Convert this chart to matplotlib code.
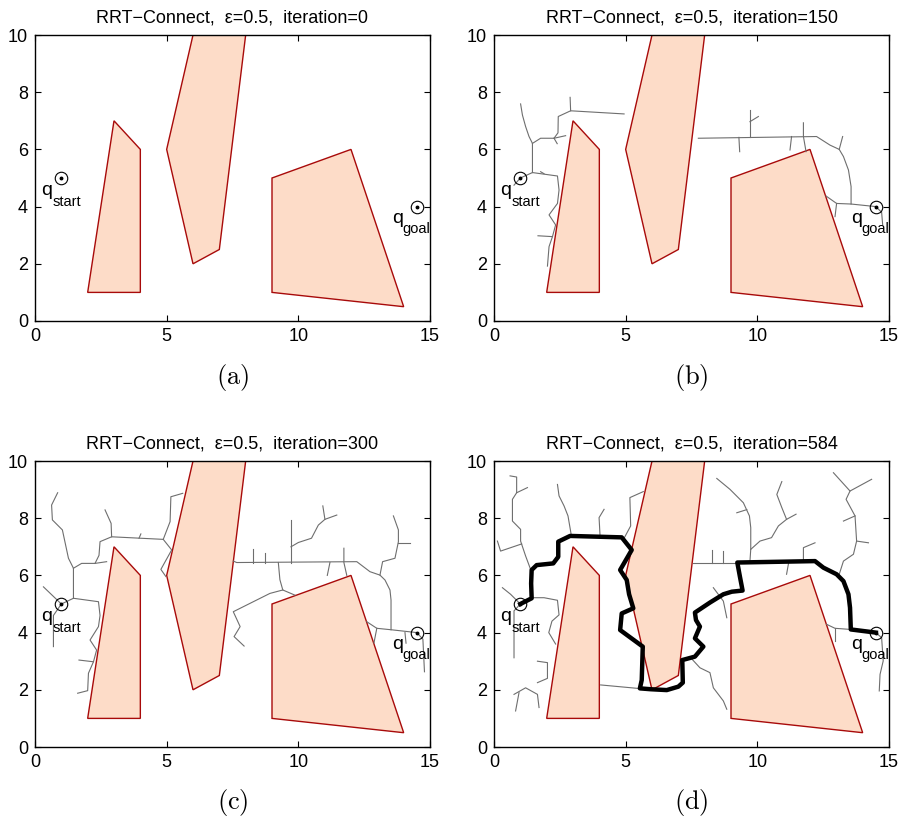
import matplotlib.pyplot as plt
from matplotlib.patches import Polygon

plt.rcParams['font.family'] = ['Liberation Sans', 'DejaVu Sans']
plt.rcParams['mathtext.fontset'] = 'cm'

# Data
obstacles = [
    [(2, 1), (3, 7), (4, 6), (4, 1)],
    [(5, 6), (6, 10), (8, 10), (7, 2.5), (6, 2)],
    [(9, 5), (12, 6), (14, 0.5), (9, 1)],
]
q_start = (1, 5)
q_goal = (14.5, 4)
iterations = [0, 150, 300, 584]
captions = ['(a)', '(b)', '(c)', '(d)']

tree_a = []

tree_b = [
    [(1.0, 5.0), (0.76, 4.75)],
    [(1.0, 5.0), (1.46, 5.19), (2.41, 5.07), (2.47, 4.58), (2.41, 4.11), (2.09, 3.71),
     (2.34, 3.36), (2.22, 2.95), (2.09, 2.6), (2.03, 1.92)],
    [(2.22, 2.95), (1.67, 2.98)],
    [(1.77, 5.22), (1.9, 5.15)],
    [(1.46, 5.19), (1.46, 6.21), (1.33, 6.45), (1.2, 6.8), (1.08, 7.2), (1.01, 7.59)],
    [(1.46, 6.21), (1.77, 6.39), (2.28, 6.39), (2.43, 6.58), (2.44, 7.15), (2.91, 7.35), (4.94, 7.24)],
    [(2.28, 6.39), (2.72, 6.48)],
    [(2.28, 6.39), (2.4, 6.2)],
    [(2.91, 7.35), (2.89, 7.82)],
    [(14.5, 4.0), (13.56, 4.09), (13.01, 4.11), (12.61, 4.37)],
    [(13.01, 4.11), (12.95, 3.65)],
    [(14.5, 4.0), (14.72, 3.8), (14.76, 3.36)],
    [(13.56, 4.09), (13.56, 4.7), (13.46, 5.28), (13.27, 5.75), (13.11, 6.0), (12.76, 6.15),
     (12.25, 6.45), (7.76, 6.39)],
    [(13.11, 6.0), (13.24, 6.45)],
    [(11.75, 6.93), (11.75, 6.45), (11.85, 5.92)],
    [(11.3, 6.45), (11.24, 5.98)],
    [(9.72, 6.43), (9.72, 7.38)],
    [(9.72, 6.97), (10.04, 7.15)],
    [(9.3, 6.42), (9.33, 5.92)],
]

tree_c = [
    [(1.0, 5.0), (0.32, 5.6)],
    [(1.0, 5.0), (0.7, 4.6), (0.7, 3.51)],
    [(1.0, 5.0), (1.46, 5.2), (2.41, 5.08), (2.47, 4.6), (2.41, 4.21), (2.09, 3.74), (2.34, 3.39),
     (2.22, 2.98), (2.03, 2.58), (2.0, 1.97), (1.62, 1.88)],
    [(2.22, 2.98), (1.67, 3.04)],
    [(1.46, 5.2), (1.46, 6.25), (1.27, 6.6), (1.04, 7.59), (0.66, 7.94), (0.63, 8.46), (0.86, 8.89)],
    [(1.46, 6.25), (1.77, 6.42), (2.28, 6.42), (2.43, 6.7), (2.47, 7.18), (2.91, 7.35), (4.87, 7.26),
     (5.19, 6.89), (4.78, 6.21), (4.97, 5.96)],
    [(2.28, 6.42), (2.72, 6.48)],
    [(2.91, 7.35), (2.89, 7.82), (2.66, 8.29)],
    [(4.87, 7.26), (5.13, 7.88), (5.16, 8.75), (5.61, 8.87)],
    [(3.95, 7.3), (4.02, 7.45)],
    [(14.5, 4.0), (13.52, 4.1), (12.98, 4.15), (12.6, 4.38)],
    [(12.98, 4.15), (12.87, 3.63)],
    [(14.5, 4.0), (14.73, 3.77), (14.79, 2.63)],
    [(13.52, 4.1), (13.52, 5.14), (13.48, 5.49), (13.29, 5.84), (13.1, 6.01), (12.72, 6.13),
     (12.22, 6.48), (7.66, 6.45), (7.53, 6.5)],
    [(13.1, 6.01), (13.2, 6.48), (13.67, 6.6), (13.8, 7.18), (13.8, 7.59), (13.61, 8.08)],
    [(13.8, 7.15), (14.24, 7.15)],
    [(14.05, 4.0), (14.09, 3.63)],
    [(11.73, 6.95), (11.73, 6.45), (11.84, 6.0)],
    [(11.2, 6.45), (11.1, 6.0)],
    [(9.72, 6.45), (9.72, 7.94)],
    [(9.72, 7.0), (10.0, 7.15), (10.5, 7.3), (10.76, 7.76), (11.01, 7.96), (11.46, 8.11)],
    [(11.01, 7.96), (10.93, 8.43)],
    [(9.24, 6.45), (9.3, 5.85), (9.41, 5.49), (9.87, 5.31)],
    [(9.41, 5.49), (8.92, 5.37), (7.53, 4.73), (7.79, 4.21), (7.56, 3.86), (7.94, 3.53)],
    [(8.74, 6.45), (8.74, 6.77)],
    [(8.27, 6.45), (8.27, 6.91)],
]

tree_d = [
    [(1.0, 5.0), (0.63, 5.34), (0.32, 5.57)],
    [(1.0, 5.0), (0.76, 4.76), (0.76, 3.12)],
    [(1.46, 5.22), (1.9, 5.22), (2.41, 5.13), (2.47, 4.62), (2.2, 4.4), (2.08, 4.0), (2.34, 3.6)],
    [(1.65, 3.0), (2.03, 2.95), (2.03, 2.4), (1.65, 2.25)],
    [(0.76, 1.84), (1.2, 2.07), (1.65, 1.84), (1.71, 1.38)],
    [(0.95, 1.9), (0.82, 1.26)],
    [(1.39, 6.21), (1.2, 6.68), (1.01, 7.2), (1.01, 7.61), (0.7, 7.9), (0.7, 8.66), (0.86, 8.89),
     (0.86, 9.44), (0.61, 9.48)],
    [(0.86, 8.89), (1.27, 9.07)],
    [(1.05, 7.1), (0.25, 6.85), (0.13, 7.2)],
    [(2.94, 7.38), (2.81, 8.08), (2.66, 8.43), (2.47, 8.78), (2.41, 9.18)],
    [(4.03, 7.34), (3.99, 8.02), (4.18, 8.31)],
    [(4.94, 7.3), (5.19, 7.73), (5.16, 8.72), (5.67, 8.93)],
    [(4.05, 2.17), (5.57, 2.04)],
    [(7.54, 6.44), (9.24, 6.44)],
    [(8.27, 6.44), (8.27, 6.88)],
    [(8.71, 6.44), (8.71, 6.85)],
    [(8.46, 9.39), (8.96, 9.01), (9.47, 8.54), (9.7, 8.08), (9.75, 7.67), (9.75, 6.91), (9.72, 6.5)],
    [(9.6, 8.3), (9.22, 8.19)],
    [(9.75, 6.91), (10.1, 7.2), (10.54, 7.32), (10.8, 7.73), (11.11, 7.96), (11.47, 8.14)],
    [(11.11, 7.96), (10.93, 8.37), (10.74, 8.83), (10.93, 9.28)],
    [(11.2, 6.5), (11.11, 6.04)],
    [(11.75, 6.5), (11.75, 6.97), (12.19, 7.14)],
    [(12.89, 9.59), (13.52, 8.95), (14.34, 9.36)],
    [(13.52, 8.95), (13.37, 8.66), (13.71, 8.08), (13.77, 7.2), (13.65, 6.74), (13.27, 6.5), (13.11, 6.04)],
    [(13.71, 8.08), (13.27, 7.9)],
    [(13.77, 7.2), (14.22, 7.14)],
    [(14.5, 4.0), (14.72, 3.82), (14.78, 3.01), (14.66, 2.54), (14.63, 1.96)],
    [(13.55, 4.11), (12.95, 4.15), (12.63, 4.29)],
    [(12.95, 4.15), (12.95, 3.71)],
    [(7.44, 3.15), (7.82, 2.77), (8.2, 2.6), (8.33, 2.07), (8.71, 1.61), (8.84, 1.32)],
    [(8.33, 5.57), (8.71, 5.1), (8.84, 4.52)],
]

path_d = [(1.0, 5.0), (1.43, 5.2), (1.41, 5.72), (1.43, 6.19), (1.62, 6.36), (2.25, 6.42), (2.44, 6.65),
          (2.44, 7.18), (2.89, 7.38), (4.85, 7.33), (5.23, 6.89), (4.79, 6.19), (5.04, 5.84), (5.13, 5.34),
          (5.29, 4.85), (4.85, 4.67), (4.79, 4.09), (5.19, 3.82), (5.65, 3.51), (5.61, 2.34), (5.54, 2.05),
          (5.95, 2.02), (6.56, 1.99), (7.0, 2.11), (7.17, 2.25), (7.15, 3.04), (7.63, 3.16), (7.95, 3.51),
          (7.63, 3.8), (7.82, 4.21), (7.67, 4.44), (7.63, 4.7), (8.2, 5.05), (8.71, 5.34), (9.03, 5.43),
          (9.44, 5.47), (9.34, 5.95), (9.24, 6.45), (12.19, 6.5), (12.51, 6.27), (13.01, 6.04),
          (13.27, 5.8), (13.46, 5.34), (13.52, 4.87), (13.55, 4.11), (14.5, 4.0)]

trees = [tree_a, tree_b, tree_c, tree_d]
paths = [None, None, None, path_d]

W, H = 901, 818
fig = plt.figure(figsize=(W / 100, H / 100), dpi=100)

# axes boxes in pixels: left, top, right, bottom
boxes = [(35, 35, 430, 321), (494, 35, 889, 321),
         (35, 461, 430, 747), (494, 461, 889, 747)]

for i, (l, t, r, b) in enumerate(boxes):
    ax = fig.add_axes([l / W, 1 - b / H, (r - l) / W, (b - t) / H])

    for poly in obstacles:
        ax.add_patch(Polygon(poly, closed=True, facecolor='#fddcc8',
                             edgecolor='#a80a0a', linewidth=1.0, zorder=2))

    for seg in trees[i]:
        xs, ys = zip(*seg)
        ax.plot(xs, ys, color='#6e6e6e', linewidth=0.8, zorder=3)

    if paths[i] is not None:
        xs, ys = zip(*paths[i])
        ax.plot(xs, ys, color='black', linewidth=3.2, solid_joinstyle='round', zorder=4)

    for q in (q_start, q_goal):
        ax.plot(q[0], q[1], 'o', mfc='none', mec='black', ms=9, mew=0.8, zorder=5)
        ax.plot(q[0], q[1], 'o', color='black', ms=1.8, zorder=5)

    # q labels with hand-placed subscripts
    ax.text(0.25, 4.41, 'q', fontsize=14, ha='left', va='baseline', zorder=6)
    ax.text(0.66, 4.03, 'start', fontsize=10.5, ha='left', va='baseline', zorder=6)
    ax.text(13.55, 3.42, 'q', fontsize=14, ha='left', va='baseline', zorder=6)
    ax.text(13.94, 3.08, 'goal', fontsize=10.5, ha='left', va='baseline', zorder=6, clip_on=True)

    ax.set_xlim(0, 15)
    ax.set_ylim(0, 10)
    ax.set_xticks([0, 5, 10, 15])
    ax.set_yticks([0, 2, 4, 6, 8, 10])
    ax.tick_params(direction='in', top=True, right=True, length=4, width=0.8, labelsize=13, pad=5)
    for sp in ax.spines.values():
        sp.set_linewidth(1.0)
    ax.set_title(f'RRT\u2212Connect,  \u03b5=0.5,  iteration={iterations[i]}', fontsize=13, pad=9)

    fig.text((l + r) / 2 / W, 1 - (b + 56) / H, r'$\mathrm{' + captions[i] + '}$',
             fontsize=19, ha='center', va='center')

fig.savefig('out.png', dpi=100)
